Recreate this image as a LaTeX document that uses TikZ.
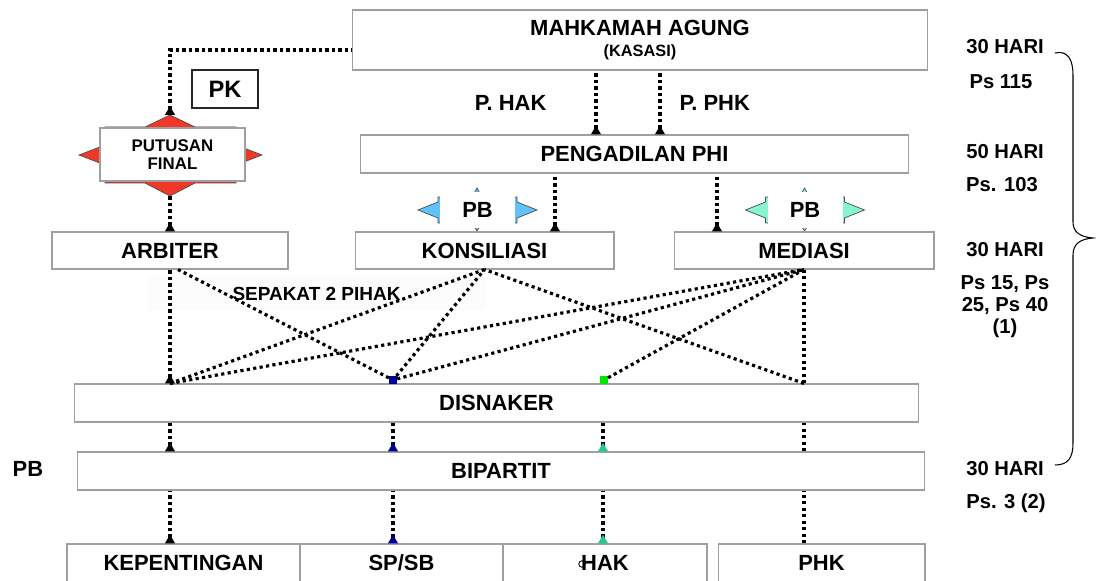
\documentclass[tikz,border=0pt]{standalone}
\usepackage{fontspec}
\setmainfont{Liberation Sans}
\usetikzlibrary{arrows.meta,positioning}

\definecolor{navytip}{RGB}{0,0,150}
\definecolor{minttip}{RGB}{40,200,150}
\definecolor{limetip}{RGB}{0,230,0}
\definecolor{pbblue}{RGB}{95,195,250}
\definecolor{pbaqua}{RGB}{135,245,205}
\definecolor{finred}{RGB}{240,55,40}

\tikzset{
  box/.style={draw=gray!75, line width=0.6pt, fill=white, inner sep=0pt, align=center,
    font=\fontsize{12.5}{15}\selectfont\bfseries},
  lbl/.style={inner sep=0pt, font=\fontsize{12.5}{15}\selectfont\bfseries},
  side/.style={inner sep=0pt, align=center, font=\fontsize{11.5}{12.5}\selectfont\bfseries},
  link/.style={line width=1.8pt, dash pattern=on 1.8pt off 1.9pt},
  uptip/.style={{Triangle[reversed,length=5pt,width=5.5pt,color=#1]}-},
  sqmark/.style={fill=#1, inner sep=0pt, minimum size=0.15cm},
  pbstar/.style={draw=gray!60!black, line width=0.4pt, fill=#1},
}

\begin{document}
\begin{tikzpicture}[x=0.02cm, y=-0.02cm]
\useasboundingbox (0,0) rectangle (1096,581);
\clip (0,0) rectangle (1096,581);

% red star behind PUTUSAN FINAL
\draw[pbstar=finred] (105,127) -- (145,127) -- (170,115) -- (195,127) -- (236,127) -- (236,145)
  -- (262,155) -- (236,165) -- (236,183) -- (195,183) -- (170,196) -- (145,183) -- (105,183)
  -- (105,165) -- (79,155) -- (105,145) -- cycle;
\coordinate (fintop) at (170,115);
\coordinate (finbot) at (170,196);

% PB stars
\draw[pbstar=pbblue] (438,197) -- (472,197) -- (477,188) -- (482,197) -- (517,197) -- (517,202)
  -- (537,210) -- (517,218) -- (517,223) -- (482,223) -- (477,231) -- (472,223) -- (438,223)
  -- (438,218) -- (418,210) -- (438,202) -- cycle;
\begin{scope}[shift={(327.5,0)}]
\draw[pbstar=pbaqua] (438,197) -- (472,197) -- (477,188) -- (482,197) -- (517,197) -- (517,202)
  -- (537,210) -- (517,218) -- (517,223) -- (482,223) -- (477,231) -- (472,223) -- (438,223)
  -- (438,218) -- (418,210) -- (438,202) -- cycle;
\end{scope}
\node[lbl, fill=white, minimum width=1.5cm, minimum height=0.72cm] (pb1) at (477.5,210) {PB};
\node[lbl, fill=white, minimum width=1.5cm, minimum height=0.72cm] (pb2) at (805,210) {PB};

% boxes
\node[box, minimum width=11.52cm, minimum height=1.2cm] (ma) at (640,40)
  {MAHKAMAH AGUNG\\[-3pt]{\fontsize{9.3}{11}\selectfont (KASASI)}};
\node[box, draw=black!85, line width=0.8pt, minimum width=1.32cm, minimum height=0.76cm,
  font=\fontsize{13.5}{16}\selectfont\bfseries] (pk) at (225,89) {PK};
\node[box, minimum width=10.98cm, minimum height=0.76cm] (phi) at (634.5,154) {PENGADILAN PHI};
\node[box, minimum width=2.9cm, minimum height=1.06cm,
  font=\fontsize{9.6}{10.6}\selectfont\bfseries] (fin) at (172.5,154.5) {PUTUSAN\\FINAL};
\node[box, minimum width=4.72cm, minimum height=0.74cm] (arb) at (170,250.5) {ARBITER};
\node[box, minimum width=5.18cm, minimum height=0.74cm] (kon) at (484.5,250.5) {KONSILIASI};
\node[box, minimum width=5.2cm, minimum height=0.74cm] (med) at (804,250.5) {MEDIASI};
\node[box, minimum width=16.9cm, minimum height=0.76cm] (dis) at (496.5,403) {DISNAKER};
\node[box, minimum width=16.96cm, minimum height=0.76cm] (bip) at (501,471) {BIPARTIT};
\node[box, minimum width=4.66cm, minimum height=0.76cm] (kep) at (183.5,563) {KEPENTINGAN};
\node[box, minimum width=4.06cm, minimum height=0.76cm] (sp) at (401.5,563) {SP/SB};
\node[box, minimum width=4.08cm, minimum height=0.76cm] (hak) at (605,563) {HAK};
\node[box, minimum width=4.14cm, minimum height=0.76cm] (phk) at (821.5,563) {PHK};
\node[draw, circle, inner sep=0pt, minimum size=0.13cm, line width=0.5pt] (ring) at (582,564) {};

\node[lbl, fill=black!1, minimum width=6.74cm, minimum height=0.66cm,
  font=\fontsize{10.8}{12}\selectfont\bfseries] (sepakat) at (316.5,293.5) {SEPAKAT 2 PIHAK};

% columns
\coordinate (cA) at (170,0);
\coordinate (cB) at (393,0);
\coordinate (cC) at (603,0);
\coordinate (cD) at (804,0);
\coordinate (cE) at (555,0);
\coordinate (cF) at (717,0);
\coordinate (cG) at (596,0);
\coordinate (cH) at (660,0);
\node[sqmark=navytip] (sqB) at (393,380) {};
\node[sqmark=limetip] (sqC) at (604,380) {};

% up to BIPARTIT
\draw[link, uptip=black] (kep.north -| cA) -- (bip.south -| cA);
\draw[link, uptip=navytip] (sp.north -| cB) -- (bip.south -| cB);
\draw[link, uptip=minttip] (hak.north -| cC) -- (bip.south -| cC);
\draw[link] (phk.north -| cD) -- (bip.south -| cD);
% up to DISNAKER
\draw[link, uptip=black] (bip.north -| cA) -- (dis.south -| cA);
\draw[link, uptip=navytip] (bip.north -| cB) -- (dis.south -| cB);
\draw[link, uptip=minttip] (bip.north -| cC) -- (dis.south -| cC);
\draw[link] (bip.north -| cD) -- (dis.south -| cD);
% DISNAKER to arbiter, konsiliasi, mediasi
\draw[link, uptip=black] (dis.north -| cA) -- (arb.south);
\draw[link] (dis.north -| cA) -- (kon.south);
\draw[link] (dis.north -| cA) -- (med.south);
\draw[link] (sqB) -- ([xshift=0.16cm]arb.south);
\draw[link] (sqB) -- (kon.south);
\draw[link] (sqB) -- (med.south);
\draw[link] (sqC) -- (med.south);
\draw[link] (dis.north -| cD) -- (med.south);
\draw[link] (dis.north -| cD) -- (kon.south);
% up to PHI and MA
\draw[link, uptip=black] (arb.north) -- (finbot);
\draw[link, uptip=black] (fintop) |- ([yshift=-0.2cm]ma.west);
\draw[link, uptip=black] (kon.north -| cE) -- (phi.south -| cE);
\draw[link, uptip=black] (med.north -| cF) -- (phi.south -| cF);
\draw[link, uptip=black] (phi.north -| cG) -- (ma.south -| cG) node[lbl, midway, left=0.96cm] (phak) {P. HAK};
\draw[link, uptip=black] (phi.north -| cH) -- (ma.south -| cH) node[lbl, midway, right=0.36cm] (pphk) {P. PHK};

% left and right notes
\node[lbl] (pb0) at (28,469) {PB};
\node[side] (t1) at (1005,47) {30 HARI};
\node[side] (t2) at (1001,82) {Ps 115};
\node[side] (t3) at (1005,152) {50 HARI};
\node[side] (t4) at (1002,185) {Ps. 103};
\node[side] (t5) at (1005,250) {30 HARI};
\node[side] (t6) at (1005,307) {Ps 15, Ps\\25, Ps 40\\(1)};
\node[side] (t7) at (1005,469) {30 HARI};
\node[side] (t8) at (1006,503) {Ps. 3 (2)};

% brace
\draw[line width=0.6pt] (1055,53) .. controls (1068,50) and (1073,60) .. (1073,75) -- (1073,222)
  .. controls (1073,232) and (1080,237) .. (1093,238)
  .. controls (1080,239) and (1073,244) .. (1073,255) -- (1073,443)
  .. controls (1073,458) and (1068,465) .. (1055,465);
\end{tikzpicture}
\end{document}
